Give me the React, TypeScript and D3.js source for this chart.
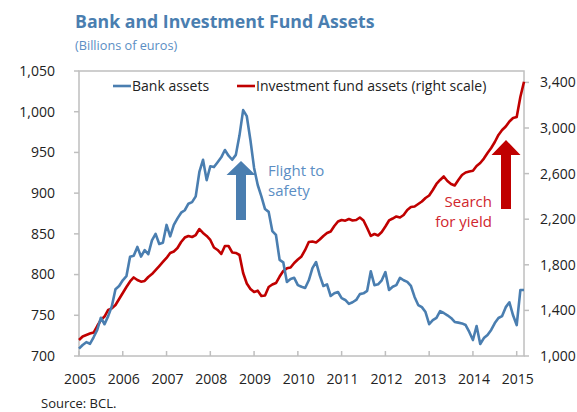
import React from "react";
import * as d3 from "d3";

const startYear = 2005;
const bankAssets: number[] = [
  709, 713.5, 717, 715, 723, 732, 747, 739, 749, 761, 782, 786,
  793, 798, 822, 823, 834, 822, 830, 825, 842, 850, 837.5, 839,
  861, 847, 861, 869, 876, 879, 887, 889, 896, 926, 941, 916,
  933, 932, 938, 944, 953, 946, 941, 947, 971, 1002, 994.5, 965,
  931, 910, 896, 880.5, 877, 853.5, 848.6, 818, 815, 791, 794.5, 796,
  787, 785, 783.5, 793, 808, 815.4, 799, 786, 788, 773.7, 777, 778.6,
  771, 768.8, 764, 766, 768.8, 776, 777, 780, 804, 787, 788, 793,
  803, 781, 785, 787, 796, 793, 791, 786, 772.5, 762.6, 760, 754,
  739, 744, 746.7, 755, 752.8, 750, 746.7, 741.8, 741, 740, 738, 729.5,
  719.6, 736.8, 714.7, 722, 725.8, 732, 740.5, 746.7, 749, 760, 766, 750,
  738, 781, 781,
];
const fundAssets: number[] = [
  1140, 1171, 1184, 1197, 1206, 1263, 1316, 1346, 1404, 1418, 1447, 1500,
  1553, 1605, 1654, 1689, 1667, 1652, 1658, 1693, 1719, 1754, 1789, 1825,
  1860, 1904, 1917, 1947, 2000, 2039, 2053, 2044, 2061, 2114, 2079, 2053,
  2018, 1952, 1930, 1895, 1965, 1965, 1908, 1904, 1886, 1728, 1636, 1588,
  1561, 1573, 1526, 1531, 1605, 1627, 1640, 1697, 1746, 1769, 1776, 1816,
  1846, 1873, 1930, 2000, 2004, 1996, 2022, 2053, 2079, 2092, 2140, 2180,
  2193, 2187, 2202, 2189, 2193, 2215, 2189, 2123, 2053, 2070, 2057, 2088,
  2136, 2189, 2206, 2224, 2215, 2237, 2281, 2307, 2311, 2333, 2355, 2386,
  2408, 2456, 2509, 2544, 2575, 2535, 2509, 2496, 2544, 2588, 2610, 2618,
  2625, 2667, 2693, 2732, 2781, 2825, 2877, 2939, 2982, 3013, 3057, 3088,
  3096, 3272, 3406,
];
const yearLabels = ["2005", "2006", "2007", "2008", "2009", "2010", "2011", "2012", "2013", "2014", "2015"];
const leftTicks = [700, 750, 800, 850, 900, 950, 1000, 1050];
const rightTicks = [1000, 1400, 1800, 2200, 2600, 3000, 3400];

const BLUE = "#4a7eb0";
const BLUE_TEXT = "#5b8ec4";
const RED = "#c00000";
const AXIS = "#bfbfbf";
const FONT = "'Open Sans', 'Noto Sans', sans-serif";

export default function App() {
  const W = 577, H = 412;
  const L = 79, R = 524, T = 71, B = 356;
  const n = bankAssets.length;
  const x = d3.scaleLinear().domain([0, n - 1]).range([L, R]);
  const yL = d3.scaleLinear().domain([700, 1050]).range([B, T]);
  const yR = d3.scaleLinear().domain([1000, 3500]).range([B, T]);
  const fmt = d3.format(",");
  const lineBank = d3.line<number>().x((_, i) => x(i)).y((d) => yL(d)).curve(d3.curveLinear);
  const lineFund = d3.line<number>().x((_, i) => x(i)).y((d) => yR(d)).curve(d3.curveLinear);
  const monthX = (yearIdx: number) => x(yearIdx * 12);

  const arrow = (cx: number, tipY: number, headY: number, baseY: number, shaftW: number, headW: number) =>
    `M${cx - shaftW / 2},${baseY} L${cx - shaftW / 2},${headY} L${cx - headW / 2},${headY} L${cx},${tipY} L${cx + headW / 2},${headY} L${cx + shaftW / 2},${headY} L${cx + shaftW / 2},${baseY} Z`;

  return (
    <svg width={W} height={H} style={{ position: "absolute", left: 0, top: 0, background: "#fff" }} fontFamily={FONT}>
      <text x={75} y={28} fontSize={17.7} fontWeight={700} fill={BLUE}>Bank and Investment Fund Assets</text>
      <text x={75} y={50} fontSize={12.7} fill={BLUE_TEXT}>(Billions of euros)</text>

      {/* frame */}
      <rect x={L} y={T} width={R - L} height={B - T} fill="none" stroke={AXIS} strokeWidth={1.5} />

      {/* left axis */}
      {leftTicks.map((t) => (
        <g key={"l" + t}>
          <line x1={L - 5} x2={L} y1={yL(t)} y2={yL(t)} stroke={AXIS} strokeWidth={1.5} />
          <text x={55} y={yL(t)} dy="0.35em" textAnchor="end" fontSize={14} fill="#222">{fmt(t)}</text>
        </g>
      ))}
      {/* right axis */}
      {rightTicks.map((t) => (
        <g key={"r" + t}>
          <line x1={R} x2={R + 5} y1={yR(t)} y2={yR(t)} stroke={AXIS} strokeWidth={1.5} />
          <text x={540} y={yR(t)} dy="0.35em" textAnchor="start" fontSize={14} fill="#222">{fmt(t)}</text>
        </g>
      ))}
      {/* x axis */}
      {yearLabels.map((lab, i) => (
        <g key={lab}>
          <line x1={monthX(i)} x2={monthX(i)} y1={B - 5} y2={B} stroke={AXIS} strokeWidth={1.5} />
          <text x={monthX(i) + 1} y={384} textAnchor="middle" fontSize={14} fill="#222">{lab}</text>
        </g>
      ))}

      {/* lines */}
      <path d={lineFund(fundAssets) || ""} fill="none" stroke={RED} strokeWidth={2.6} strokeLinejoin="round" />
      <path d={lineBank(bankAssets) || ""} fill="none" stroke={BLUE} strokeWidth={2.6} strokeLinejoin="round" />

      {/* legend */}
      <line x1={113} x2={131} y1={86} y2={86} stroke={BLUE} strokeWidth={2.6} />
      <text x={132} y={91} fontSize={14} fill="#222">Bank assets</text>
      <line x1={237} x2={255} y1={86} y2={86} stroke={RED} strokeWidth={2.6} />
      <text x={256} y={91} fontSize={14} fill="#222">Investment fund assets (right scale)</text>

      {/* annotations */}
      <path d={arrow(241, 161, 175, 220, 10, 29)} fill={BLUE} />
      <text x={268} y={176} fontSize={15} fill={BLUE_TEXT}>Flight to</text>
      <text x={268} y={196} fontSize={15} fill={BLUE_TEXT}>safety</text>

      <path d={arrow(506, 140, 155, 209, 10, 29)} fill={RED} />
      <text x={492} y={207} fontSize={15} textAnchor="end" fill="#d0262e">Search</text>
      <text x={492} y={227} fontSize={15} textAnchor="end" fill="#d0262e">for yield</text>

      <text x={41} y={408} fontSize={13} fill="#222">Source: BCL.</text>
    </svg>
  );
}
